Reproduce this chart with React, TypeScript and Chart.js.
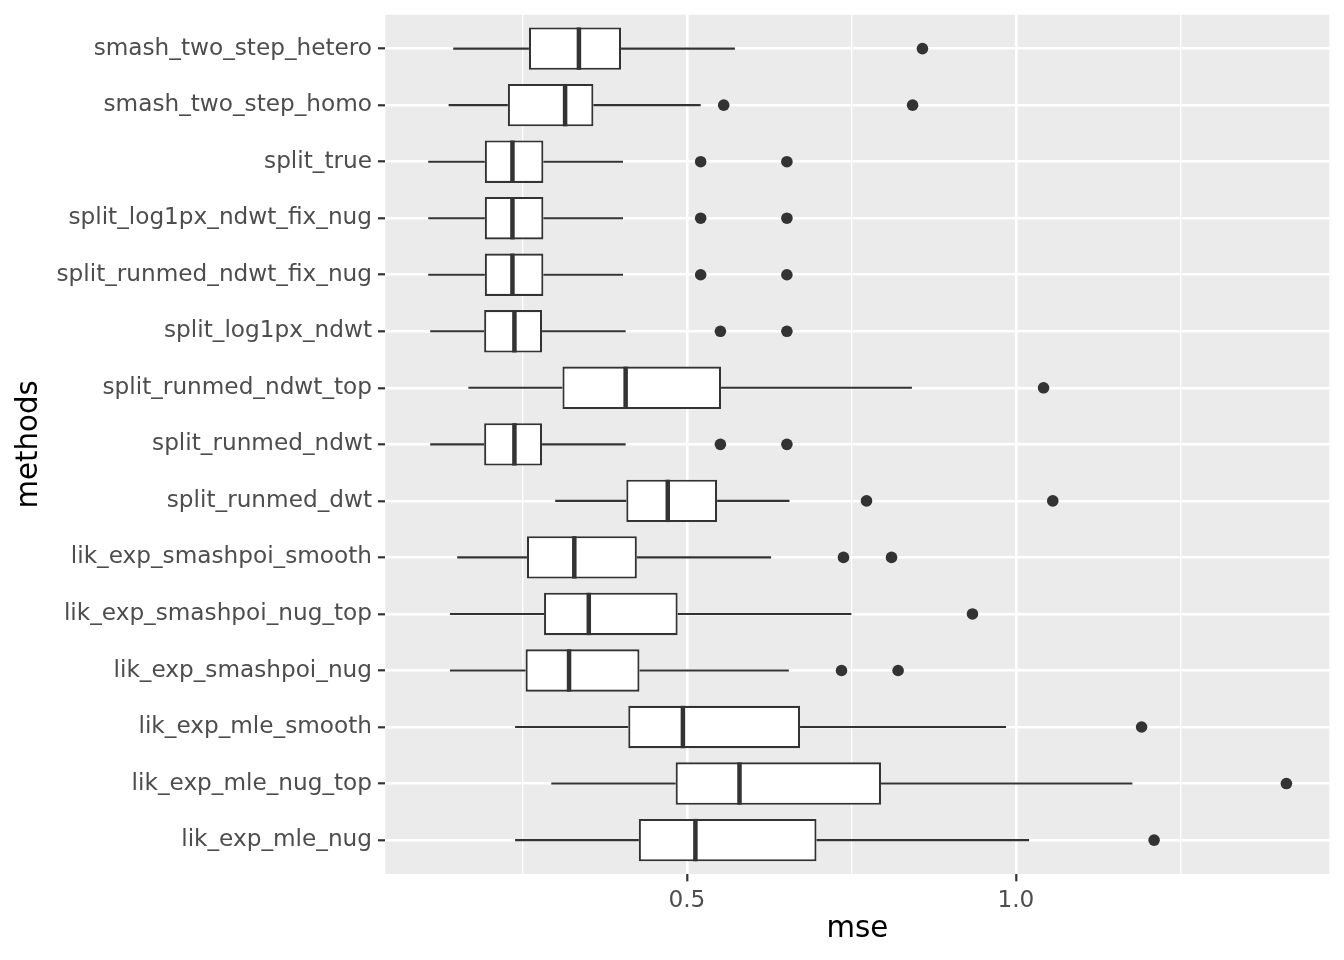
import { useEffect, useRef } from "react";
import { Chart, registerables } from "chart.js";

Chart.register(...registerables);

// methods, top to bottom
const categories = [
  "smash_two_step_hetero",
  "smash_two_step_homo",
  "split_true",
  "split_log1px_ndwt_fix_nug",
  "split_runmed_ndwt_fix_nug",
  "split_log1px_ndwt",
  "split_runmed_ndwt_top",
  "split_runmed_ndwt",
  "split_runmed_dwt",
  "lik_exp_smashpoi_smooth",
  "lik_exp_smashpoi_nug_top",
  "lik_exp_smashpoi_nug",
  "lik_exp_mle_smooth",
  "lik_exp_mle_nug_top",
  "lik_exp_mle_nug",
];

const whiskerLow = [0.145, 0.138, 0.107, 0.107, 0.107, 0.11, 0.168, 0.11, 0.3, 0.151, 0.14, 0.14, 0.239, 0.294, 0.239];
const q1 = [0.26, 0.228, 0.193, 0.193, 0.193, 0.192, 0.311, 0.192, 0.408, 0.257, 0.283, 0.255, 0.411, 0.483, 0.427];
const median = [0.336, 0.315, 0.235, 0.235, 0.235, 0.238, 0.407, 0.238, 0.471, 0.329, 0.351, 0.321, 0.494, 0.58, 0.513];
const q3 = [0.4, 0.358, 0.282, 0.282, 0.282, 0.28, 0.552, 0.28, 0.546, 0.424, 0.486, 0.428, 0.672, 0.795, 0.697];
const whiskerHigh = [0.573, 0.521, 0.403, 0.403, 0.403, 0.407, 0.842, 0.407, 0.656, 0.628, 0.75, 0.655, 0.985, 1.177, 1.02];
const outliers = [
  [0.858],
  [0.556, 0.843],
  [0.521, 0.652],
  [0.521, 0.652],
  [0.521, 0.652],
  [0.551, 0.652],
  [1.042],
  [0.551, 0.652],
  [0.773, 1.056],
  [0.738, 0.811],
  [0.934],
  [0.735, 0.821],
  [1.191],
  [1.411],
  [1.21],
];

const xTicks = [0.5, 1.0];
const xTickLabels = ["0.5", "1.0"];
const xMinor = [0.25, 0.75, 1.25];

const FONT = "'DejaVu Sans', sans-serif";
const INK = "#333333";

const panelBackground = {
  id: "panelBackground",
  beforeDraw(chart: any) {
    const { ctx, chartArea: a } = chart;
    ctx.save();
    ctx.fillStyle = "#EBEBEB";
    ctx.fillRect(a.left, a.top, a.width, a.height);
    ctx.restore();
  },
};

// whiskers and median lines, on top of the boxes
const boxParts = {
  id: "boxParts",
  afterDatasetsDraw(chart: any) {
    const { ctx } = chart;
    const x = chart.scales.x;
    const meta = chart.getDatasetMeta(0);
    ctx.save();
    ctx.strokeStyle = INK;
    ctx.lineCap = "butt";
    meta.data.forEach((bar: any, i: number) => {
      const { y, height } = bar.getProps(["y", "height"], true);
      ctx.lineWidth = 2.1;
      ctx.beginPath();
      ctx.moveTo(x.getPixelForValue(whiskerLow[i]), y);
      ctx.lineTo(x.getPixelForValue(q1[i]), y);
      ctx.moveTo(x.getPixelForValue(q3[i]), y);
      ctx.lineTo(x.getPixelForValue(whiskerHigh[i]), y);
      ctx.stroke();
      const mx = x.getPixelForValue(median[i]);
      ctx.lineWidth = 4.5;
      ctx.beginPath();
      ctx.moveTo(mx, y - height / 2);
      ctx.lineTo(mx, y + height / 2);
      ctx.stroke();
    });
    ctx.restore();
  },
};

const BoxplotChart = () => {
  const chartRef = useRef<HTMLCanvasElement>(null);

  useEffect(() => {
    if (!chartRef.current) return;
    const isMajor = (v: number) => xTicks.includes(v);

    const chart = new Chart(chartRef.current, {
      type: "bar",
      data: {
        datasets: [
          {
            type: "bar",
            indexAxis: "y",
            data: categories.map((_, i) => ({ y: i, x: [q1[i], q3[i]] })),
            backgroundColor: "#FFFFFF",
            borderColor: INK,
            borderWidth: 2.1,
            borderSkipped: false,
            categoryPercentage: 1,
            barPercentage: 0.75,
          } as any,
          {
            type: "scatter",
            data: outliers.flatMap((vals, i) => vals.map((v) => ({ x: v, y: i }))),
            backgroundColor: INK,
            borderWidth: 0,
            pointRadius: 5.8,
            pointHoverRadius: 5.8,
          } as any,
        ],
      },
      options: {
        animation: false,
        responsive: true,
        maintainAspectRatio: false,
        layout: { padding: { top: 14.7, right: 14.7, left: 0, bottom: 0 } },
        plugins: {
          legend: { display: false },
          tooltip: { enabled: false },
        },
        scales: {
          x: {
            type: "linear",
            position: "bottom",
            offset: false,
            min: 0.0418,
            max: 1.4762,
            afterBuildTicks: (s: any) => {
              s.ticks = [...xTicks, ...xMinor].sort((a, b) => a - b).map((v) => ({ value: v }));
            },
            afterFit: (s: any) => {
              s.height = 86;
              s.paddingLeft = 0;
              s.paddingRight = 0;
            },
            ticks: {
              autoSkip: false,
              maxRotation: 0,
              padding: 6,
              color: "#4D4D4D",
              font: { family: FONT, size: 23.2 },
              callback: (v: any) => {
                const k = xTicks.indexOf(v);
                return k >= 0 ? xTickLabels[k] : "";
              },
            },
            grid: {
              offset: false,
              color: "#FFFFFF",
              lineWidth: (c: any) => (isMajor(c.tick?.value) ? 2.6 : 1.3),
              tickColor: (c: any) => (isMajor(c.tick?.value) ? INK : "rgba(0,0,0,0)"),
              tickLength: 7.3,
              tickWidth: 2.2,
            },
            border: { display: false },
            title: {
              display: true,
              text: "mse",
              color: "#000000",
              font: { family: FONT, size: 29.3 },
              padding: { top: 0, bottom: 12.9 },
            },
          },
          y: {
            type: "linear",
            position: "left",
            offset: false,
            reverse: true,
            min: -0.6,
            max: 14.6,
            afterBuildTicks: (s: any) => {
              s.ticks = categories.map((_, i) => ({ value: i }));
            },
            afterFit: (s: any) => {
              s.width = 385.3;
              s.paddingTop = 0;
              s.paddingBottom = 0;
            },
            ticks: {
              autoSkip: false,
              padding: 6,
              color: "#4D4D4D",
              font: { family: FONT, size: 23.2 },
              callback: (v: any) => categories[v] ?? "",
            },
            grid: {
              offset: false,
              color: "#FFFFFF",
              lineWidth: 2.6,
              tickColor: INK,
              tickLength: 7.3,
              tickWidth: 2.2,
            },
            border: { display: false },
            title: {
              display: true,
              text: "methods",
              color: "#000000",
              font: { family: FONT, size: 29.3 },
              padding: { top: 12, bottom: 0 },
            },
          },
        },
      },
      plugins: [panelBackground, boxParts],
    });

    return () => {
      chart.destroy();
    };
  }, []);

  return (
    <div style={{ position: "absolute", left: 0, top: 0, width: 1344, height: 960 }}>
      <canvas ref={chartRef} />
    </div>
  );
};

export default function App() {
  return <BoxplotChart />;
}
